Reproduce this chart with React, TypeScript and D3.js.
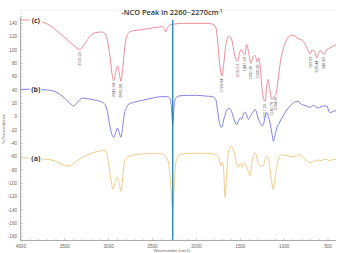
import * as d3 from 'd3';

// FTIR spectra, [wavenumber cm-1, % transmittance] control points
const spectrumC: [number, number][] = [
  [4000, 145], [3900, 145], [3800, 143], [3700, 139], [3620, 132], [3540, 123], [3460, 114], [3390, 106],
  [3330.22, 101], [3270, 110], [3210, 121], [3150, 126], [3080, 127], [3040, 124], [3010, 112], [2985, 90],
  [2960, 63], [2943.94, 54], [2920, 66], [2900, 76], [2880, 66], [2860.98, 53], [2840, 72], [2820, 100],
  [2800, 118], [2770, 126], [2720, 129], [2650, 130], [2550, 132], [2450, 134], [2390, 135], [2365, 132],
  [2350, 127], [2335, 132], [2310, 137], [2250, 139], [2150, 140], [2000, 140], [1900, 140], [1820, 139],
  [1780, 134], [1760, 115], [1740, 85], [1709.84, 61], [1690, 78], [1665, 108], [1630, 121], [1605, 118],
  [1580, 104], [1560, 90], [1530.13, 83], [1510, 95], [1492, 101], [1470, 96], [1447.29, 93], [1427, 108],
  [1405, 96], [1380.36, 80], [1360, 88], [1332, 92], [1306.28, 82], [1290, 88], [1270, 70], [1250, 38],
  [1230, 25], [1217.2, 23], [1200, 45], [1184, 56], [1165, 42], [1140.76, 26], [1120, 30], [1094.36, 34],
  [1070, 55], [1040, 85], [1013, 101], [985, 112], [956, 119], [920, 122], [880, 121], [850, 118],
  [820, 116], [790, 114], [760, 108], [730, 100], [703.83, 94], [680, 100], [655, 98], [628.44, 88],
  [605, 97], [580, 99], [548.43, 93], [520, 100], [480, 103], [440, 106], [410, 108],
];

const spectrumB: [number, number][] = [
  [4000, 41], [3850, 41], [3700, 40], [3600, 37], [3520, 30], [3440, 20], [3400, 16], [3360, 21],
  [3300, 28], [3240, 27], [3160, 25], [3080, 22], [3040, 18], [3010, 5], [2985, -15], [2960, -28],
  [2943.94, -31], [2920, -24], [2900, -17], [2880, -24], [2860.98, -31], [2840, -15], [2820, 5], [2800, 12],
  [2780, 18], [2700, 22], [2600, 25], [2500, 28], [2400, 30], [2330, 30], [2300, 27], [2285, 15],
  [2270, -12], [2255, 15], [2240, 27], [2200, 31], [2100, 32], [2000, 32], [1900, 31], [1820, 30],
  [1780, 26], [1760, 10], [1740, -8], [1712, -16], [1690, -5], [1660, 8], [1630, 13], [1600, 8],
  [1570, -5], [1541, -12], [1520, -6], [1500, -2], [1484, -4], [1465, 4], [1446, 7], [1425, 1],
  [1405, -4], [1389, 0], [1360, 6], [1332, 11], [1310, 4], [1298, -2], [1270, -10], [1250, -14],
  [1237, -12], [1215, 2], [1199, 6], [1180, 0], [1161, -10], [1140, -25], [1123, -37], [1100, -25],
  [1085, -17], [1050, -8], [1013, 1], [970, 10], [933, 16], [880, 22], [838, 23], [800, 18],
  [762, 17], [730, 15], [705, 14], [670, 17], [640, 15], [614, 13], [580, 15], [545, 16],
  [515, 16], [490, 8], [477, 6], [440, 8], [410, 9],
];

const spectrumA: [number, number][] = [
  [4000, -62], [3900, -62], [3800, -63], [3700, -64], [3620, -66], [3560, -70], [3500, -73], [3440, -74],
  [3380, -68], [3300, -61], [3220, -56], [3150, -53], [3080, -51], [3050, -50], [3020, -56], [2995, -75],
  [2970, -98], [2950, -109], [2930, -100], [2905, -91], [2880, -100], [2860, -112], [2840, -92], [2820, -68],
  [2800, -62], [2760, -59], [2700, -57], [2600, -56], [2500, -55], [2400, -56], [2350, -60], [2320, -68],
  [2300, -90], [2285, -118], [2270, -140], [2255, -110], [2240, -75], [2220, -62], [2200, -58], [2100, -55],
  [2000, -55], [1900, -55], [1800, -56], [1760, -58], [1740, -64], [1720, -74], [1705, -68], [1690, -80],
  [1674, -121], [1655, -85], [1640, -58], [1617, -46], [1600, -44], [1580, -50], [1560, -59], [1540, -72],
  [1520, -76], [1500, -70], [1480, -76], [1460, -69], [1440, -72], [1410, -82], [1389, -89], [1370, -70],
  [1350, -59], [1332, -54], [1310, -62], [1298, -69], [1270, -74], [1237, -73], [1220, -65], [1199, -59],
  [1180, -62], [1165, -75], [1140, -100], [1123, -109], [1105, -92], [1085, -74], [1060, -62], [1030, -57],
  [990, -58], [950, -59], [900, -60], [860, -59], [838, -57], [810, -58], [780, -62], [740, -66],
  [705, -69], [680, -68], [650, -66], [614, -65], [580, -66], [545, -64], [515, -64], [480, -66],
  [440, -64], [410, -64],
];

// peak wavenumbers annotated on spectrum (c)
const peaksC = [3330.22, 2943.94, 2860.98, 1709.84, 1530.13, 1447.29, 1380.36, 1306.28, 1217.2, 1140.76, 1094.36, 703.83, 628.44, 548.43];

const xTicks = [4000, 3500, 3000, 2500, 2000, 1500, 1000, 500];
const yTicks = d3.range(-180, 141, 20);
const ncoPeak = 2270;

const W = 342;
const H = 253;

export default function App() {
  const x = d3.scaleLinear().domain([4010, 410]).range([20, 336]);
  const y = d3.scaleLinear().domain([-185, 160]).range([240, 10]);

  const line = d3
    .line<[number, number]>()
    .x((d) => x(d[0]))
    .y((d) => y(d[1]))
    .curve(d3.curveMonotoneX);

  const series = [
    { name: '(c)', data: spectrumC, color: '#e8808f' },
    { name: '(b)', data: spectrumB, color: '#7474da' },
    { name: '(a)', data: spectrumA, color: '#ebc67e' },
  ];

  const minorX = d3.range(4000, 400, -100);
  const minorY = d3.range(-185, 156, 5);
  const tickFont = { fontFamily: 'Liberation Sans, Arial, sans-serif', fontSize: 4.6, fill: '#666' };

  return (
    <svg width={W} height={H} style={{ position: 'absolute', left: 0, top: 0, background: '#fff' }}>
      {/* faint frame top */}
      <line x1={20} x2={336} y1={10} y2={10} stroke="#eee" strokeWidth={0.8} />

      {/* axes */}
      <line x1={20.5} x2={20.5} y1={17} y2={240} stroke="#888" strokeWidth={0.7} />
      <line x1={20} x2={336} y1={240.5} y2={240.5} stroke="#888" strokeWidth={0.7} />
      {minorY.map((v) => (
        <line key={'my' + v} x1={20.5} x2={v % 20 === 0 ? 23 : 22} y1={y(v)} y2={y(v)} stroke="#999" strokeWidth={0.5} />
      ))}
      {minorX.map((v) => (
        <line key={'mx' + v} x1={x(v)} x2={x(v)} y1={240.5} y2={v % 500 === 0 ? 238 : 239} stroke="#999" strokeWidth={0.5} />
      ))}
      {yTicks.map((v) => (
        <text key={'y' + v} x={17} y={y(v) + 1.6} textAnchor="end" {...tickFont}>
          {v}
        </text>
      ))}
      {xTicks.map((v) => (
        <text key={'x' + v} x={x(v)} y={247.5} textAnchor="middle" {...tickFont}>
          {v}
        </text>
      ))}
      <text x={172} y={252} textAnchor="middle" {...tickFont} fontSize={4}>
        Wavenumber (cm-1)
      </text>
      <text transform={`translate(5,${129}) rotate(-90)`} textAnchor="middle" {...tickFont} fontSize={4}>
        % Transmittance
      </text>

      {/* spectra */}
      {series.map((s) => (
        <path key={s.name} d={line(s.data) ?? ''} fill="none" stroke={s.color} strokeWidth={0.9} />
      ))}

      {/* series labels */}
      {series.map((s) => {
        const cx = x(3830);
        const cy = y(s.data[0][1]);
        return (
          <g key={'lbl' + s.name}>
            <rect x={cx - 6} y={cy - 4} width={12} height={8} fill="#fff" />
            <text
              x={cx}
              y={cy + 2.5}
              textAnchor="middle"
              fontFamily="Open Sans, Arial, sans-serif"
              fontWeight="bold"
              fontSize={7}
              fill="#333"
            >
              {s.name}
            </text>
          </g>
        );
      })}

      {/* peak annotations on (c) */}
      {peaksC.map((wn) => {
        const pt = spectrumC.find((d) => d[0] === wn)!;
        const px = x(wn);
        const py = y(pt[1]) + 2.5;
        return (
          <text
            key={'pk' + wn}
            transform={`translate(${px + 1.3},${py}) rotate(-90)`}
            textAnchor="end"
            fontFamily="Liberation Sans, Arial, sans-serif"
            fontSize={3.9}
            fill="#666"
          >
            {wn.toFixed(2)}
          </text>
        );
      })}

      {/* -NCO band marker */}
      <line x1={x(ncoPeak)} x2={x(ncoPeak)} y1={20} y2={240} stroke="#1d80b3" strokeWidth={1.3} />

      <text x={172} y={15} textAnchor="middle" fontFamily="Open Sans, Arial, sans-serif" fontWeight="600" fontSize={7.4} fill="#333">
        -NCO Peak in 2260~2270cm
        <tspan dy={-2.5} fontSize={4.5}>
          -1
        </tspan>
      </text>
    </svg>
  );
}
